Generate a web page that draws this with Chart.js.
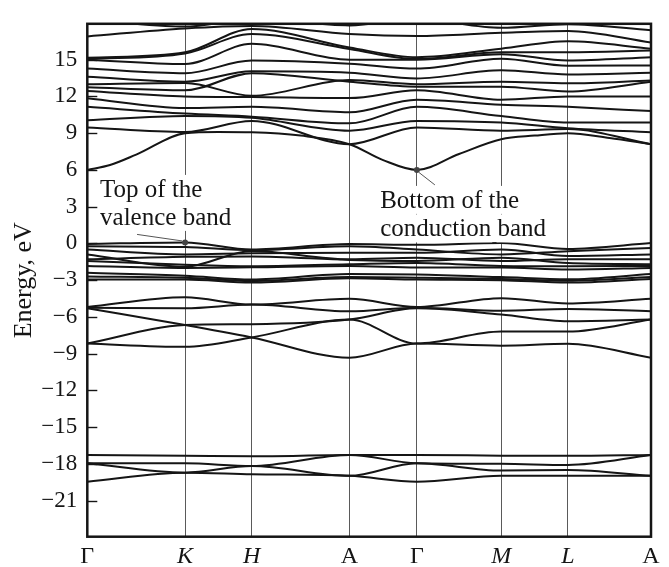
<!DOCTYPE html>
<html>
<head>
<meta charset="utf-8">
<script src="https://cdn.jsdelivr.net/npm/chart.js@4.4.0/dist/chart.umd.min.js"></script>
<style>
  html, body { margin: 0; padding: 0; background: #fff; }
  canvas { display: block; }
</style>
</head>
<body>
<canvas id="bands" width="669" height="567"></canvas>
<script>
// k-path through the hexagonal Brillouin zone
const kLabels = ['Γ', 'K', 'H', 'A', 'Γ', 'M', 'L', 'A'];
const kItalic = [false, true, true, false, false, true, true, false];
const kNodes = [0, 97.7, 164.4, 262, 329.4, 413.7, 480.4, 563.4];
const yTicks = [15, 12, 9, 6, 3, 0, -3, -6, -9, -12, -15, -18, -21];

// Energies (eV) at Γ, K, H, A, Γ, M, L, A
// semicore bands
const d1 = [-17.28, -17.33, -17.38, -17.28, -17.28, -17.33, -17.35, -17.28];
const d2 = [-17.95, -17.95, -18.18, -17.28, -17.95, -18.0, -18.1, -17.28];
const d3 = [-17.95, -18.72, -18.18, -18.98, -17.95, -18.55, -18.5, -18.98];
const d4 = [-19.46, -18.72, -18.85, -18.98, -19.46, -18.98, -18.98, -18.98];

// lower valence bands
const l1 = [-5.2, -4.4, -5.0, -4.53, -5.2, -4.47, -4.9, -4.53];
const l2 = [-5.25, -5.3, -5.0, -5.55, -5.25, -5.5, -5.35, -5.55];
const l3 = [-5.3, -6.67, -7.68, -9.33, -8.18, -8.35, -8.2, -9.33];
const l4 = [-8.18, -6.67, -6.6, -6.22, -5.3, -5.8, -6.35, -6.22];
const l5 = [-8.18, -8.45, -7.68, -6.22, -8.18, -7.2, -7.2, -6.22];

// upper valence bands
const u1 = [-0.05, 0.08, -0.5, -0.05, -0.12, 0.03, -0.45, 0.03];
const u2 = [-0.24, -0.3, -0.55, -0.24, -0.5, -0.9, -0.64, -0.37];
const u3 = [-0.5, -0.9, -0.8, -0.77, -0.77, -0.5, -1.04, -0.9];
const u4 = [-0.9, -1.9, -0.62, -1.3, -1.17, -1.44, -1.3, -1.3];
const u5 = [-1.3, -1.1, -1.07, -1.35, -1.44, -1.17, -1.6, -1.7];
const u6 = [-1.44, -1.75, -1.87, -1.7, -1.6, -1.84, -1.87, -1.84];
const u7 = [-1.84, -2.0, -1.95, -1.84, -1.97, -1.97, -2.13, -2.0];
const u8 = [-2.4, -2.64, -2.95, -2.5, -2.55, -2.75, -2.93, -2.5];
const u9 = [-2.7, -2.8, -3.07, -2.75, -2.8, -2.9, -3.05, -2.75];
const u10 = [-2.95, -2.95, -3.2, -2.85, -2.95, -3.0, -3.2, -2.9];

// conduction bands
const c1 = [6.0, 9.0, 9.07, 8.1, 6.0, 8.5, 9.0, 8.1];
const c1Mid = [7.25, 9.1, 8.8, 6.8, 7.3, 8.8, 8.6];
const c1Extra = [[22.7, 6.4]];
const c2 = [9.47, 9.1, 10.0, 8.1, 9.47, 9.2, 9.33, 8.1];
const c3 = [10.05, 10.4, 10.25, 9.2, 10.0, 9.87, 9.4, 9.07];
const c4 = [11.15, 10.6, 10.35, 9.8, 11.15, 10.4, 9.87, 9.87];
const c5 = [11.85, 11.05, 11.15, 10.7, 11.73, 11.33, 11.15, 10.8];
const c6 = [12.45, 12.0, 11.95, 11.87, 12.5, 11.73, 12.0, 12.0];
const c7 = [12.75, 12.5, 13.9, 13.2, 12.8, 12.8, 12.4, 13.2];
const c8 = [13.0, 13.1, 12.05, 13.35, 13.0, 13.2, 13.07, 13.3];
const c9 = [13.6, 13.2, 14.05, 13.93, 13.47, 14.13, 13.8, 13.93];
const c10 = [14.27, 13.9, 14.93, 14.67, 14.27, 15.07, 14.5, 14.53];
const c11 = [15.0, 14.65, 16.3, 15.0, 15.0, 15.45, 14.93, 15.2];
const c12 = [15.05, 15.5, 17.1, 15.87, 15.05, 15.6, 15.6, 15.74];
const c13 = [15.15, 15.6, 17.5, 16.0, 15.2, 15.9, 16.5, 15.9];
const c14 = [16.9, 17.55, 17.75, 17.1, 16.94, 17.2, 17.34, 16.4];
const c15 = [18.3, 17.7, 18.3, 17.8, 18.3, 17.6, 17.9, 17.4];

const bandList = [
  [d1], [d2], [d3], [d4],
  [l1], [l2], [l3], [l4], [l5],
  [u1], [u2], [u3], [u4], [u5], [u6], [u7], [u8], [u9], [u10],
  [c1, c1Mid, c1Extra], [c2], [c3], [c4], [c5], [c6], [c7], [c8], [c9], [c10],
  [c11], [c12], [c13], [c14], [c15]
];

// node energies, optional segment midpoints and extra read points -> {x, y}
function bandPoints(nodes, mids, extra) {
  const pts = [];
  nodes.forEach((e, i) => {
    pts.push({ x: kNodes[i], y: e });
    if (mids && i < nodes.length - 1 && mids[i] != null) {
      pts.push({ x: (kNodes[i] + kNodes[i + 1]) / 2, y: mids[i] });
    }
  });
  (extra || []).forEach(([k, e]) => pts.push({ x: k, y: e }));
  return pts.sort((p, q) => p.x - q.x);
}

const SERIF = '"Liberation Serif", "Times New Roman", serif';
const INK = '#151515';

// frame, inward ticks and the two band-edge callouts
const decorations = {
  id: 'decorations',
  afterDatasetsDraw(chart) {
    const { ctx, chartArea: a, scales: { x, y } } = chart;
    ctx.save();

    ctx.strokeStyle = INK;
    ctx.lineWidth = 1.4;
    yTicks.forEach(v => {
      const py = Math.round(y.getPixelForValue(v)) + 0.5;
      ctx.beginPath();
      ctx.moveTo(a.left, py);
      ctx.lineTo(a.left + 10, py);
      ctx.stroke();
    });

    ctx.lineWidth = 2.5;
    ctx.strokeRect(a.left, a.top, a.right - a.left, a.bottom - a.top);

    ctx.font = '25px ' + SERIF;
    ctx.textBaseline = 'alphabetic';

    function textLine(str, left, base) {
      let cx = left;
      const space = ctx.measureText(' ').width;
      str.split(' ').forEach(word => {
        const w = ctx.measureText(word).width;
        ctx.fillStyle = '#fff';
        ctx.fillRect(cx - 1, base - 22, w + 2, 28);
        ctx.fillStyle = INK;
        ctx.fillText(word, cx, base);
        cx += w + space;
      });
    }

    function marker(px, py) {
      ctx.fillStyle = '#444';
      ctx.beginPath();
      ctx.arc(px, py, 3, 0, Math.PI * 2);
      ctx.fill();
    }

    // top of the valence band at K
    const vx = x.getPixelForValue(kNodes[1]);
    const vy = y.getPixelForValue(u1[1]);
    textLine('Top of the', vx - 85, vy - 45.5);
    textLine('valence band', vx - 85, vy - 17.5);
    ctx.strokeStyle = '#555';
    ctx.lineWidth = 1;
    ctx.beginPath();
    ctx.moveTo(vx - 48, vy - 8);
    ctx.lineTo(vx - 3, vy - 1.5);
    ctx.stroke();
    marker(vx, vy);

    // bottom of the conduction band at Γ
    const cx = x.getPixelForValue(kNodes[4]);
    const cy = y.getPixelForValue(c1[4]);
    textLine('Bottom of the', cx - 36.7, cy + 38);
    textLine('conduction band', cx - 36.7, cy + 66.5);
    ctx.strokeStyle = '#555';
    ctx.lineWidth = 1;
    ctx.beginPath();
    ctx.moveTo(cx + 2, cy + 2.5);
    ctx.lineTo(cx + 18, cy + 15);
    ctx.stroke();
    marker(cx, cy);

    ctx.restore();
  }
};

new Chart(document.getElementById('bands'), {
  type: 'line',
  data: {
    datasets: bandList.map(([nodes, mids, extra]) => ({
      data: bandPoints(nodes, mids, extra),
      borderColor: INK,
      borderWidth: 2,
      pointRadius: 0,
      fill: false,
      cubicInterpolationMode: 'monotone'
    }))
  },
  options: {
    responsive: false,
    animation: false,
    devicePixelRatio: 1,
    layout: { padding: { left: 0, right: 18, top: 12.7, bottom: 0 } },
    plugins: { legend: { display: false }, tooltip: { enabled: false } },
    scales: {
      x: {
        type: 'linear',
        min: kNodes[0],
        max: kNodes[kNodes.length - 1],
        afterBuildTicks: s => { s.ticks = kNodes.map(v => ({ value: v })); },
        afterFit: s => { s.height = 30.3; },
        ticks: {
          autoSkip: false,
          maxRotation: 0,
          padding: 6,
          color: INK,
          font: c => ({ family: SERIF, size: 24, style: kItalic[c.index] ? 'italic' : 'normal' }),
          callback: (v, i) => kLabels[i]
        },
        grid: {
          drawTicks: false,
          lineWidth: 1,
          color: c => (c.index === 0 || c.index === kNodes.length - 1) ? 'rgba(0,0,0,0)' : '#5a5a5a'
        },
        border: { display: false }
      },
      y: {
        min: -23.95,
        max: 17.93,
        afterBuildTicks: s => { s.ticks = yTicks.map(v => ({ value: v })); },
        afterFit: s => { s.width = 87.3; },
        ticks: {
          padding: 10,
          color: INK,
          font: { family: SERIF, size: 23 },
          callback: v => (v < 0 ? '\u2212' + Math.abs(v) : String(v))
        },
        grid: { display: false, drawTicks: false },
        border: { display: false },
        title: {
          display: true,
          text: 'Energy, eV',
          color: INK,
          font: { family: SERIF, size: 26 },
          padding: { top: 9, bottom: 0 }
        }
      }
    }
  },
  plugins: [decorations]
});
</script>
</body>
</html>
